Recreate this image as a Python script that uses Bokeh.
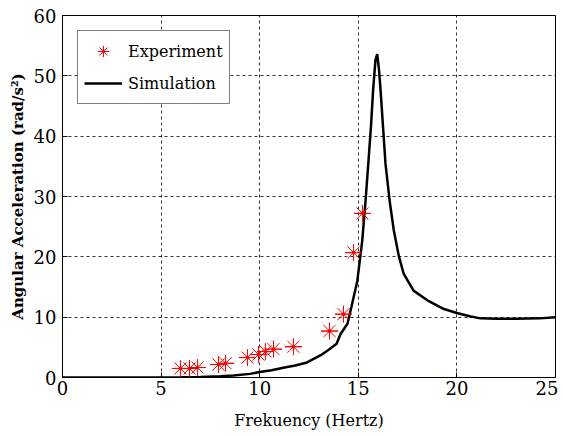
from bokeh.plotting import figure
from bokeh.models import Range1d, FixedTicker, Legend, LegendItem
from bokeh.embed import file_html
from bokeh.resources import INLINE

# Experiment data (Hz, rad/s^2)
exp_freq = [5.98, 6.44, 6.85, 7.91, 8.27, 9.38, 9.94, 10.29, 10.70, 11.71, 13.54, 14.25, 14.76, 15.21]
exp_acc = [1.5, 1.5, 1.65, 2.15, 2.35, 3.3, 3.8, 4.3, 4.7, 5.1, 7.7, 10.5, 20.7, 27.2]

# Simulation curve
sim_freq = [0, 2, 4, 6, 7, 8, 8.67, 9.5, 10, 10.6, 11.2, 11.8, 12.4, 13.1, 13.5, 13.9, 14.1,
            14.45, 14.65, 14.95, 15.2, 15.37, 15.53, 15.65, 15.75, 15.87, 15.96, 16.05, 16.13,
            16.38, 16.6, 16.8, 17.05, 17.3, 17.8, 18.5, 19.3, 20.0, 20.7, 21.2, 22, 23, 24.2, 25]
sim_acc = [0, 0, 0.02, 0.05, 0.08, 0.2, 0.33, 0.6, 0.9, 1.2, 1.6, 2.0, 2.5, 3.7, 4.6, 5.6, 7.2,
           8.9, 11.7, 16.0, 22.7, 29.4, 36.5, 42.0, 47.6, 52.6, 53.6, 51.0, 47.6,
           35.4, 29.0, 24.4, 20.2, 17.2, 14.4, 12.8, 11.4, 10.7, 10.1, 9.8, 9.75, 9.75, 9.8, 10.0]

x_ticks = [0, 5, 10, 15, 20, 25]
y_ticks = [0, 10, 20, 30, 40, 50, 60]

FONT = "DejaVu Serif"

p = figure(width=558, height=434, output_backend="svg", toolbar_location=None,
           x_range=Range1d(0, 25), y_range=Range1d(0, 60),
           min_border_left=62, min_border_right=3, min_border_top=15, min_border_bottom=57)

p.background_fill_color = "white"
p.border_fill_color = "white"
p.outline_line_color = "black"
p.outline_line_width = 1

for ax in (p.xaxis[0], p.yaxis[0]):
    ax.axis_line_color = "black"
    ax.major_tick_in = 5
    ax.major_tick_out = 0
    ax.minor_tick_line_color = None
    ax.major_label_text_font = FONT
    ax.major_label_text_font_size = "18px"
    ax.major_label_text_color = "black"
    ax.axis_label_text_font = FONT
    ax.axis_label_text_color = "black"

p.xaxis.ticker = FixedTicker(ticks=x_ticks)
p.yaxis.ticker = FixedTicker(ticks=y_ticks)
p.xaxis.major_label_standoff = 3
p.yaxis.major_label_standoff = 6
p.xaxis.axis_label = "Frekuency (Hertz)"
p.xaxis.axis_label_text_font_size = "16px"
p.xaxis.axis_label_text_font_style = "normal"
p.xaxis.axis_label_standoff = 13
p.yaxis.axis_label = "Angular Acceleration (rad/s\u00b2)"
p.yaxis.axis_label_text_font_size = "15px"
p.yaxis.axis_label_text_font_style = "bold"
p.yaxis.axis_label_standoff = 4

p.xgrid.grid_line_color = "black"
p.ygrid.grid_line_color = "black"
p.xgrid.grid_line_dash = "3 3"
p.ygrid.grid_line_dash = "3 3"
p.xgrid.grid_line_alpha = 0.8
p.ygrid.grid_line_alpha = 0.8
p.xgrid.ticker = FixedTicker(ticks=x_ticks)
p.ygrid.ticker = FixedTicker(ticks=y_ticks)

r_sim = p.line(sim_freq, sim_acc, line_color="black", line_width=2.5)

r_a = p.scatter(exp_freq, exp_acc, marker="asterisk", size=17, line_color="red", line_width=1)
r_b = p.scatter(exp_freq, exp_acc, marker="dash", size=17, line_color="red", line_width=1)
r_c = p.scatter(exp_freq, exp_acc, marker="circle", size=3, line_color="red", fill_color="red")

legend = Legend(items=[LegendItem(label="Experiment", renderers=[r_a, r_b]),
                       LegendItem(label="Simulation", renderers=[r_sim])],
                location="top_left")
legend.label_text_font = FONT
legend.label_text_font_size = "16px"
legend.label_text_color = "black"
legend.border_line_color = "black"
legend.border_line_width = 1
legend.background_fill_alpha = 1
legend.margin = 15
legend.padding = 6
legend.spacing = 4
legend.glyph_width = 38
legend.glyph_height = 28
legend.label_height = 28
legend.label_standoff = 6
p.add_layout(legend)

open("out.html", "w").write(file_html(p, INLINE))
